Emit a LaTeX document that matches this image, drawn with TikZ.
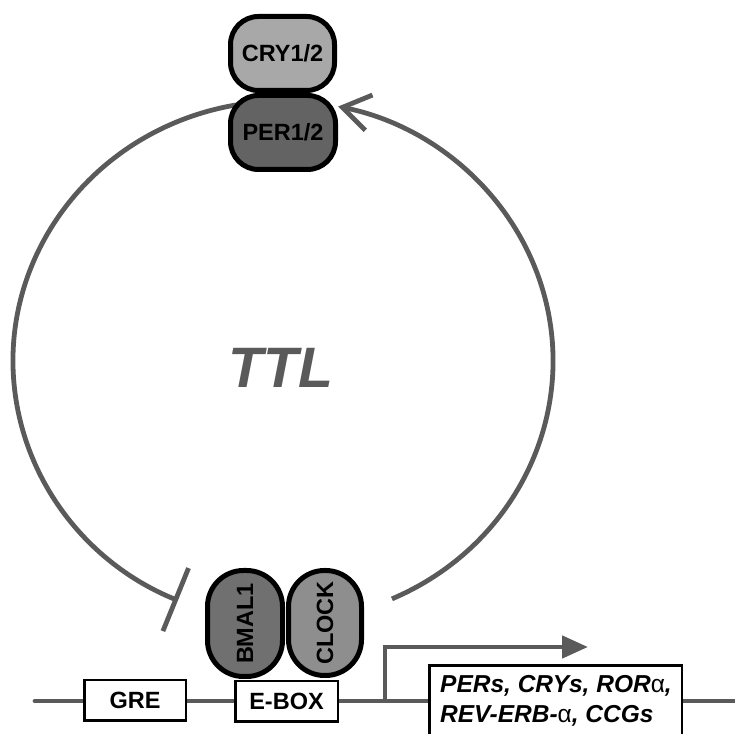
\documentclass[tikz,border=0pt]{standalone}
\usepackage{fontspec}
\setmainfont{Liberation Sans}
\usetikzlibrary{arrows.meta}
\definecolor{lgray}{RGB}{90,90,90}
\definecolor{crycol}{RGB}{168,168,168}
\definecolor{percol}{RGB}{99,99,99}
\definecolor{bmalcol}{RGB}{112,112,112}
\definecolor{clockcol}{RGB}{142,142,142}
\begin{document}
\begin{tikzpicture}[x=1pt,y=1pt,
  prot/.style={draw=black, line width=5pt, rounded corners=28pt, inner sep=0pt,
    font=\fontsize{23.5}{27}\selectfont\bfseries},
  elem/.style={draw=black, fill=white, line width=2.5pt, inner sep=0pt,
    font=\fontsize{23.5}{27}\selectfont\bfseries},
  conn/.style={draw=lgray, line width=4.8pt},
  gtext/.style={inner sep=0pt, font=\fontsize{24.5}{28}\selectfont\bfseries\itshape}]
\useasboundingbox (0,0) rectangle (734,734);
\coordinate (C) at (283,373);
% loop arcs
\draw[conn, -{Straight Barb[length=27pt,width=36pt]}] (C) ++(-66.2:270pt and 260pt)
  arc[start angle=-66.2, end angle=78.2, x radius=270pt, y radius=260pt];
\draw[conn, -{Bar[width=68pt]}] (C) ++(100:270pt and 260pt)
  arc[start angle=100, end angle=247.1, x radius=270pt, y radius=260pt];
% TTL
\node[text=lgray, font=\fontsize{57}{60}\selectfont\bfseries\itshape] (ttl) at (281,366) {TTL};
% proteins
\node[prot, fill=crycol, minimum width=104pt, minimum height=74pt] (cry) at (282.5,680.5) {CRY1/2};
\node[prot, fill=percol, minimum width=105pt, minimum height=74pt] (per) at (283,601.5) {PER1/2};
\node[prot, fill=bmalcol, rotate=90, rounded corners=36pt, minimum width=106pt, minimum height=75pt] (bmal) at (245,110.5) {BMAL1};
\node[prot, fill=clockcol, rotate=90, rounded corners=36pt, minimum width=105pt, minimum height=73pt] (clock) at (325,111) {CLOCK};
% gene line
\coordinate (L) at (35,33);
\coordinate (R) at (740,33);
\draw[conn, line cap=round] (L) -- (R);
% promoter arrow
\coordinate (ps) at (385,33);
\coordinate (pe) at (588,87);
\draw[conn, -{Triangle[length=26pt,width=22pt]}] (ps) |- (pe);
% elements
\node[elem, minimum width=101.5pt, minimum height=40.5pt] (gre) at (135,33.5) {GRE};
\node[elem, minimum width=102.5pt, minimum height=40.5pt] (ebox) at (286.5,32.5) {E-BOX};
\node[elem, anchor=north west, minimum width=252.5pt, minimum height=120pt] (genebox) at (428.25,69.75) {};
\node[gtext, anchor=base west] (g1) at (440,41) {PERs, CRYs, ROR{\mdseries\upshape α},};
\node[gtext, anchor=base west] (g2) at (440,11) {REV-ERB-{\mdseries\upshape α}, CCGs};
\end{tikzpicture}
\end{document}
